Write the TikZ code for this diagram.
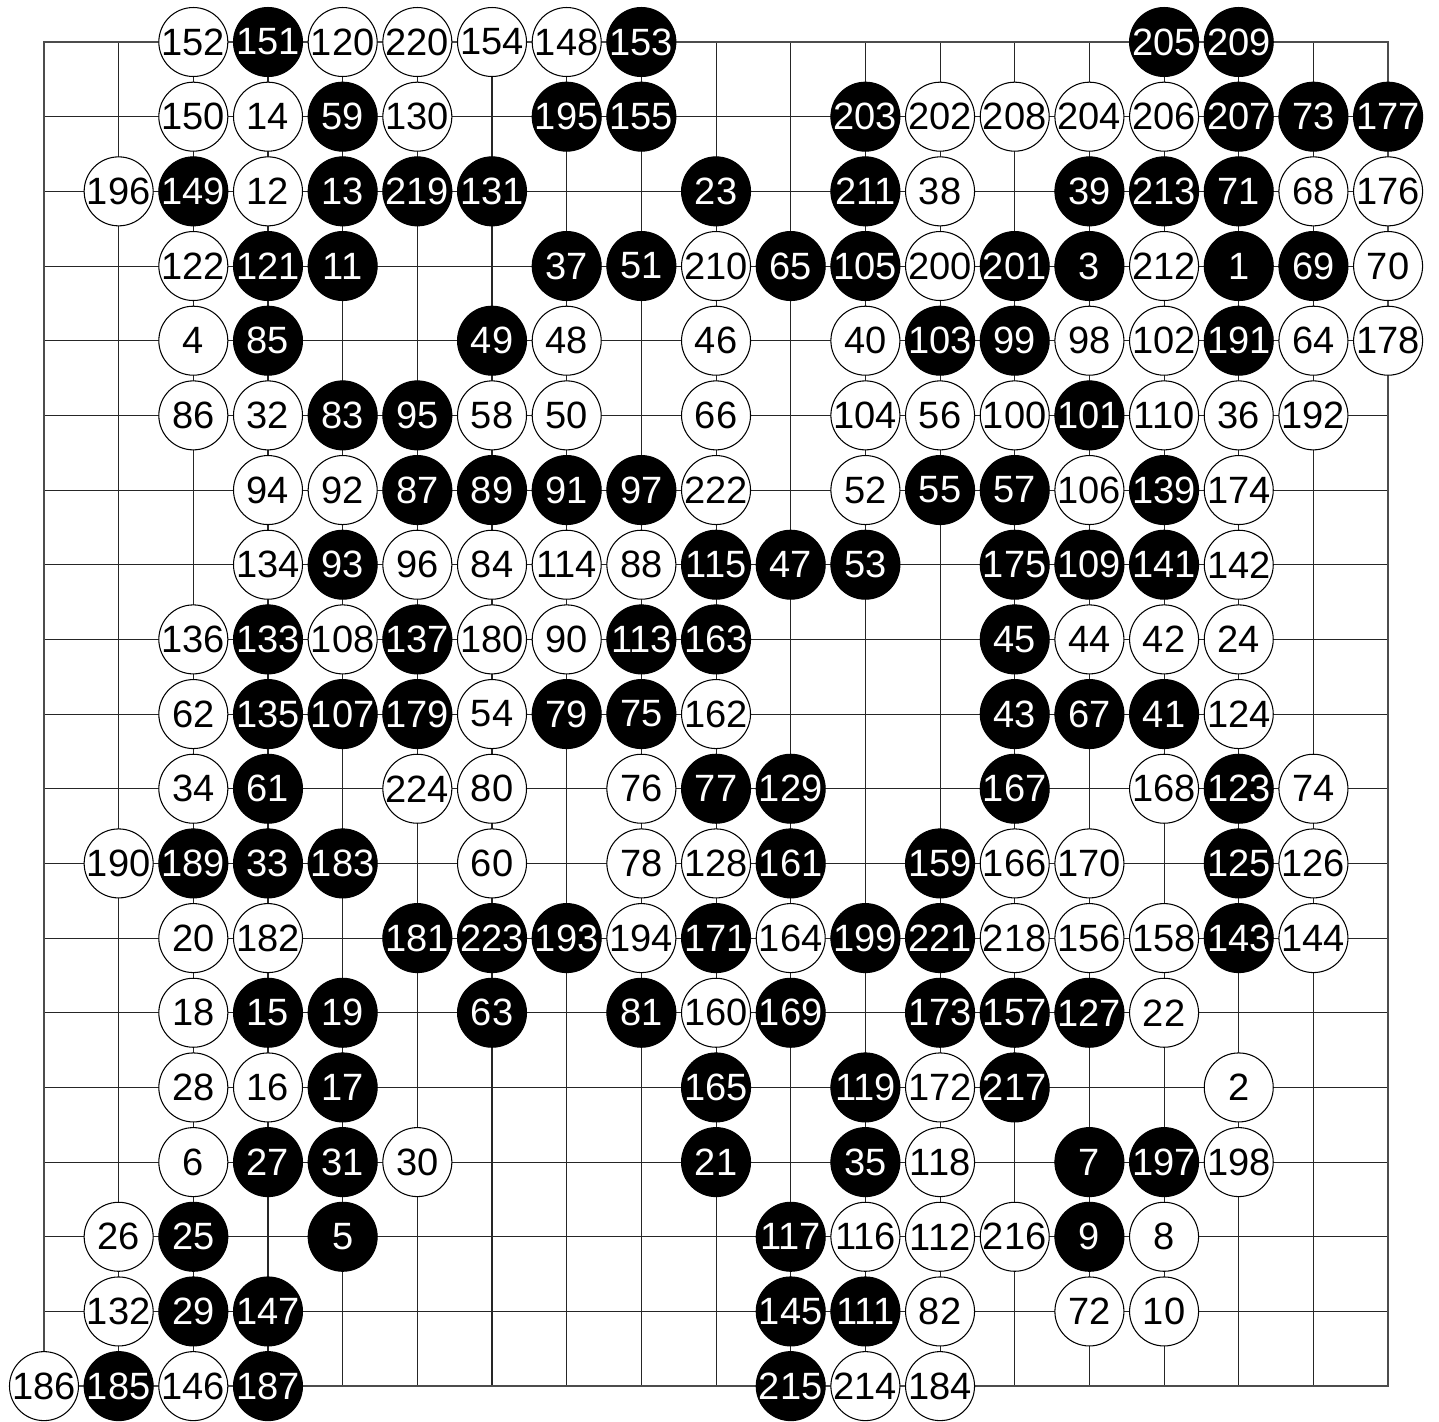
\documentclass[tikz,border=0pt]{standalone}
\usepackage{fontspec}
\setmainfont{Liberation Sans}
\usepackage{tikz}

\begin{document}
\begin{tikzpicture}[
	stone/.style={circle, draw=black, line width=0.4pt, minimum size=0.924cm, inner sep=0pt, font=\fontsize{14.5}{14.5}\selectfont},
	wstone/.style={stone, fill=white, text=black},
	bstone/.style={stone, fill=black, text=white},
	gridline/.style={line width=0.4pt, black!85},
	edgeline/.style={line width=0.8pt, black!70}]
			\useasboundingbox (-0.589,0.5625) rectangle (18.682,-18.468);
			% board lines
			\foreach \i in {1,...,17}
			{
				\draw[gridline] (\i,0) -- (\i,-18);
				\draw[gridline] (0,-\i) -- (18,-\i);
			}
			\draw[edgeline] (0,0) rectangle (18,-18);
			% black stones: column/row/move
			\foreach \c/\r/\n in {3/0/151, 8/0/153, 15/0/205, 16/0/209,
				4/1/59, 7/1/195, 8/1/155, 11/1/203, 16/1/207, 17/1/73, 18/1/177,
				2/2/149, 4/2/13, 5/2/219, 6/2/131, 9/2/23, 11/2/211, 14/2/39, 15/2/213, 16/2/71,
				3/3/121, 4/3/11, 7/3/37, 8/3/51, 10/3/65, 11/3/105, 13/3/201, 14/3/3, 16/3/1, 17/3/69,
				3/4/85, 6/4/49, 12/4/103, 13/4/99, 16/4/191,
				4/5/83, 5/5/95, 14/5/101,
				5/6/87, 6/6/89, 7/6/91, 8/6/97, 12/6/55, 13/6/57, 15/6/139,
				4/7/93, 9/7/115, 10/7/47, 11/7/53, 13/7/175, 14/7/109, 15/7/141,
				3/8/133, 5/8/137, 8/8/113, 9/8/163, 13/8/45,
				3/9/135, 4/9/107, 5/9/179, 7/9/79, 8/9/75, 13/9/43, 14/9/67, 15/9/41,
				3/10/61, 9/10/77, 10/10/129, 13/10/167, 16/10/123,
				2/11/189, 3/11/33, 4/11/183, 10/11/161, 12/11/159, 16/11/125,
				5/12/181, 6/12/223, 7/12/193, 9/12/171, 11/12/199, 12/12/221, 16/12/143,
				3/13/15, 4/13/19, 6/13/63, 8/13/81, 10/13/169, 12/13/173, 13/13/157, 14/13/127,
				4/14/17, 9/14/165, 11/14/119, 13/14/217,
				3/15/27, 4/15/31, 9/15/21, 11/15/35, 14/15/7, 15/15/197,
				2/16/25, 4/16/5, 10/16/117, 14/16/9,
				2/17/29, 3/17/147, 10/17/145, 11/17/111,
				1/18/185, 3/18/187, 10/18/215}
			\node[bstone] (s\n) at (\c,-\r) {\n};
			% white stones: column/row/move
			\foreach \c/\r/\n in {2/0/152, 4/0/120, 5/0/220, 6/0/154, 7/0/148,
				2/1/150, 3/1/14, 5/1/130, 12/1/202, 13/1/208, 14/1/204, 15/1/206,
				1/2/196, 3/2/12, 12/2/38, 17/2/68, 18/2/176,
				2/3/122, 9/3/210, 12/3/200, 15/3/212, 18/3/70,
				2/4/4, 7/4/48, 9/4/46, 11/4/40, 14/4/98, 15/4/102, 17/4/64, 18/4/178,
				2/5/86, 3/5/32, 6/5/58, 7/5/50, 9/5/66, 11/5/104, 12/5/56, 13/5/100, 15/5/110, 16/5/36, 17/5/192,
				3/6/94, 4/6/92, 9/6/222, 11/6/52, 14/6/106, 16/6/174,
				3/7/134, 5/7/96, 6/7/84, 7/7/114, 8/7/88, 16/7/142,
				2/8/136, 4/8/108, 6/8/180, 7/8/90, 14/8/44, 15/8/42, 16/8/24,
				2/9/62, 6/9/54, 9/9/162, 16/9/124,
				2/10/34, 5/10/224, 6/10/80, 8/10/76, 15/10/168, 17/10/74,
				1/11/190, 6/11/60, 8/11/78, 9/11/128, 13/11/166, 14/11/170, 17/11/126,
				2/12/20, 3/12/182, 8/12/194, 10/12/164, 13/12/218, 14/12/156, 15/12/158, 17/12/144,
				2/13/18, 9/13/160, 15/13/22,
				2/14/28, 3/14/16, 12/14/172, 16/14/2,
				2/15/6, 5/15/30, 12/15/118, 16/15/198,
				1/16/26, 11/16/116, 12/16/112, 13/16/216, 15/16/8,
				1/17/132, 12/17/82, 14/17/72, 15/17/10,
				0/18/186, 2/18/146, 11/18/214, 12/18/184}
			\node[wstone] (s\n) at (\c,-\r) {\n};
		\end{tikzpicture}
\end{document}
